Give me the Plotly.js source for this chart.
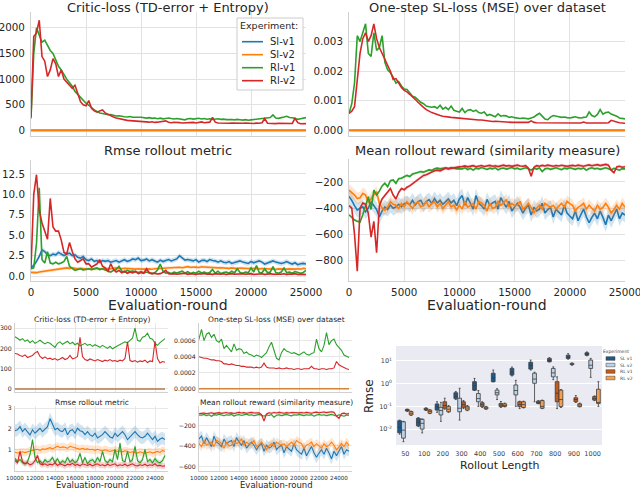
<!DOCTYPE html>
<html><head><meta charset="utf-8">
<script src="https://cdn.plot.ly/plotly-3.0.1.min.js"></script>
<style>html,body{margin:0;padding:0;background:#fff}#chart{width:640px;height:490px}</style>
</head><body><div id="chart"></div>
<script>
// ---------------- DATA ----------------
const rounds = [0,250,500,750,1000,1250,1500,1750,2000,2250,2500,2750,3000,3250,3500,3750,4000,4250,4500,4750,5000,5250,5500,5750,6000,6250,6500,6750,7000,7250,7500,7750,8000,8250,8500,8750,9000,9250,9500,9750,10000,10250,10500,10750,11000,11250,11500,11750,12000,12250,12500,12750,13000,13250,13500,13750,14000,14250,14500,14750,15000,15250,15500,15750,16000,16250,16500,16750,17000,17250,17500,17750,18000,18250,18500,18750,19000,19250,19500,19750,20000,20250,20500,20750,21000,21250,21500,21750,22000,22250,22500,22750,23000,23250,23500,23750,24000,24250,24500,24750,25000];
const flatRounds = [0, 25000];
const experiments = ['Sl-v1','Sl-v2','Rl-v1','Rl-v2'];

// Critic-loss
const criticSl1 = [0, 0];
const criticSl2 = [0, 0];
const criticRl1 = [230,1500,2000,1850,1720,1760,1650,1560,1500,1380,
1250,1180,1080,1000,930,860,760,700,660,590,
530,490,440,400,370,340,330,315,305,310,
290,280,285,270,265,260,270,255,250,255,
257,250,240,248,235,242,228,238,225,232,
240,230,222,230,225,215,205,225,232,220,
228,235,222,230,218,225,212,220,225,215,
220,210,218,212,205,215,208,200,210,198,
205,212,218,225,232,228,240,250,300,240,
235,255,260,275,250,245,225,215,228,238,
248];
const criticRl2 = [260,1830,1900,2150,1440,1350,1050,1180,1400,1300,
1050,1180,1000,950,880,820,880,720,560,500,
480,580,430,380,355,380,400,340,310,280,
260,240,225,215,200,195,190,185,180,178,
175,172,165,160,168,155,160,165,178,185,
160,150,158,148,152,145,150,142,148,155,
145,150,165,148,152,160,255,160,145,140,
148,142,138,145,140,135,142,138,145,137,
140,135,142,138,150,232,140,135,140,132,
138,135,142,130,138,135,235,150,128,135,
132];

// One-step SL-loss
const slSl1 = [0, 0];
const slSl2 = [0, 0];
const slRl1 = [0.00057,0.0009,0.0016,0.0032,0.0030,0.0033,0.0036,0.0026,0.0025,0.0033,
0.0027,0.0028,0.0032,0.0023,0.00205,0.00195,0.0018,0.0016,0.00165,0.0015,
0.0014,0.00138,0.00125,0.00115,0.00112,0.00102,0.00095,0.0009,0.00082,0.0008,
0.00078,0.0008,0.00075,0.00085,0.00072,0.00078,0.0007,0.00082,0.00068,0.00065,
0.00062,0.00074,0.0006,0.00068,0.0007,0.00064,0.00068,0.0006,0.00058,0.00062,
0.0005,0.00054,0.0005,0.00046,0.00056,0.00048,0.0005,0.00049,0.00044,0.00046,
0.00043,0.00042,0.0004,0.00042,0.00041,0.00039,0.00042,0.00045,0.00052,0.00058,
0.00048,0.00038,0.00036,0.00045,0.0005,0.00047,0.00046,0.00044,0.00045,0.00043,
0.00042,0.00044,0.00046,0.00043,0.00042,0.00044,0.00045,0.00062,0.0005,0.00046,
0.00054,0.0007,0.00055,0.0006,0.00062,0.00055,0.00052,0.00048,0.00042,0.0004,
0.00039];
const slRl2 = [0.00057,0.00065,0.0008,0.0018,0.0026,0.0031,0.0033,0.0030,0.0032,0.0036,
0.0031,0.0028,0.0026,0.00235,0.0022,0.0020,0.00172,0.00175,0.0016,0.00145,
0.00135,0.0013,0.00122,0.00115,0.00105,0.00095,0.00088,0.00078,0.0007,0.00064,
0.0006,0.00057,0.00053,0.0005,0.00048,0.00046,0.00045,0.00044,0.00043,0.00042,
0.0004,0.00039,0.00038,0.00038,0.00037,0.00036,0.00036,0.00035,0.00035,0.00034,
0.00031,0.00031,0.0003,0.00031,0.0003,0.00029,0.00029,0.00028,0.00028,0.00027,
0.00027,0.00027,0.00026,0.00027,0.00026,0.00027,0.00032,0.00027,0.00026,0.00026,
0.00026,0.00025,0.00026,0.00025,0.00025,0.00026,0.00025,0.00025,0.00024,0.00025,
0.00025,0.00024,0.00025,0.00025,0.00025,0.00028,0.00025,0.00025,0.00024,0.00025,
0.00025,0.00024,0.00025,0.00025,0.00026,0.00034,0.0003,0.00028,0.00026,0.00025,
0.00024];

// Rmse rollout metric
const rmseSl1 = [1.0,1.3,1.8,2.4,3.2,3.0,2.6,2.5,2.7,2.6,
2.9,2.7,2.5,2.7,2.8,2.5,2.6,2.3,2.2,2.4,
2.0,1.9,2.1,1.8,1.9,1.7,1.9,1.8,1.9,1.7,
1.8,1.9,1.7,1.9,2.0,1.8,1.9,2.1,2.0,2.2,
1.9,1.95,2.1,1.86,2.0,1.85,1.7,1.95,1.78,1.9,
2.02,1.86,2.0,2.1,2.49,2.17,1.95,2.02,1.9,1.86,
2.02,1.71,1.9,1.95,1.78,2.02,1.9,1.86,1.71,1.86,
1.7,1.63,1.78,1.55,1.65,1.71,1.86,1.71,1.6,1.55,
1.78,1.63,1.75,1.86,1.71,1.47,1.6,1.71,1.86,1.71,
1.6,1.55,1.63,1.78,1.6,1.47,1.63,1.39,1.5,1.55,
1.47];
const rmseSl2 = [0.45,0.4,0.42,0.5,0.55,0.6,0.65,0.7,0.8,0.85,
0.9,0.9,0.95,1.0,0.95,1.0,0.95,0.9,0.95,0.9,
0.85,0.9,0.85,0.9,0.88,0.85,0.9,0.92,0.88,0.9,
0.95,1.0,0.95,0.9,0.95,0.9,0.92,0.88,0.85,0.9,
0.85,0.82,0.85,0.88,0.84,0.9,0.92,0.95,0.98,1.0,
0.95,1.02,1.0,1.05,1.08,1.02,1.1,1.15,1.08,1.12,
1.1,1.05,1.15,1.12,1.08,1.05,1.0,1.05,1.0,1.02,
0.98,1.0,0.95,1.0,0.95,0.92,0.98,0.95,0.9,0.93,
0.95,0.9,0.92,0.88,0.93,0.9,0.85,0.88,0.85,0.82,
0.88,0.85,0.8,0.85,0.88,0.82,0.85,0.9,0.85,0.95,
0.9];
const rmseRl1 = [0.9,1.0,4.0,10.8,2.0,1.6,3.0,1.6,1.5,1.7,
1.5,1.6,1.8,2.4,1.2,0.9,0.7,0.8,0.9,0.75,
0.85,0.9,0.8,0.9,1.0,0.8,0.9,0.75,0.6,0.5,
0.7,0.8,1.2,0.6,0.5,0.7,0.55,0.6,0.5,0.45,
0.55,0.4,0.5,0.35,0.3,0.4,0.75,1.47,0.6,0.35,
0.45,0.3,0.5,0.38,0.45,0.6,0.35,0.55,0.3,0.45,
0.35,0.6,0.38,0.5,0.35,0.45,0.8,0.35,0.6,0.3,
0.45,0.5,0.35,0.6,0.4,0.9,0.45,0.35,0.5,0.4,
1.0,0.5,1.3,0.45,0.4,0.9,0.4,0.5,1.15,0.45,
0.35,0.5,1.0,0.4,0.5,0.35,0.55,0.4,0.35,0.45,
0.7];
const rmseRl2 = [1.0,10.0,12.4,8.0,6.5,5.5,4.5,9.5,6.0,5.5,
5.5,4.4,2.9,2.7,4.1,3.0,2.1,1.7,1.9,2.1,
1.5,1.5,1.1,1.3,1.5,2.0,1.2,1.0,0.6,1.5,
0.8,0.5,0.7,0.4,0.6,0.35,0.5,0.4,0.6,0.3,
0.45,0.35,0.9,0.4,0.3,0.35,0.25,0.3,0.45,0.7,
0.3,0.25,0.3,0.22,0.28,0.25,0.35,0.22,0.3,0.25,
0.2,0.28,0.25,0.32,0.22,0.27,0.2,0.3,0.25,0.22,
0.28,0.2,0.25,0.3,0.22,0.25,0.2,0.28,0.22,0.25,
0.3,0.2,0.25,0.22,0.28,0.2,0.25,0.3,0.22,0.2,
0.25,0.22,0.28,0.2,0.25,0.22,0.3,0.2,0.22,0.18,
0.2];
const rmseSpread = [0.3, 0.2, 0.12, 0.15];

// Mean rollout reward
const rewSl1 = [-310,-340,-380,-415,-400,-390,-428,-400,-351,-380,
-410,-467,-420,-390,-410,-377,-400,-390,-370,-390,
-365,-360,-375,-340,-375,-350,-340,-378,-350,-335,
-365,-326,-360,-340,-370,-350,-330,-360,-340,-380,
-330,-304,-378,-319,-360,-407,-304,-363,-380,-407,
-333,-378,-360,-348,-407,-319,-360,-393,-348,-422,
-390,-363,-393,-437,-400,-378,-452,-393,-420,-407,
-363,-437,-410,-393,-467,-407,-430,-452,-378,-437,
-460,-481,-422,-496,-450,-407,-467,-511,-470,-437,
-481,-422,-470,-526,-452,-496,-450,-407,-481,-437,
-452];
const rewSl2 = [-262,-280,-300,-326,-320,-287,-300,-351,-330,-300,
-275,-364,-400,-415,-390,-351,-370,-377,-403,-364,
-390,-351,-377,-403,-364,-351,-390,-377,-351,-390,
-364,-351,-390,-364,-403,-377,-351,-390,-377,-415,
-377,-407,-348,-393,-380,-363,-407,-348,-360,-378,
-422,-363,-400,-393,-348,-378,-360,-333,-393,-363,
-380,-378,-348,-407,-390,-363,-393,-437,-400,-378,
-407,-363,-380,-393,-378,-407,-385,-363,-393,-348,
-365,-378,-422,-393,-380,-363,-407,-378,-400,-422,
-378,-407,-395,-363,-393,-437,-410,-378,-407,-363,
-393];
const rewRl1 = [-450,-470,-490,-500,-505,-450,-380,-313,-410,-262,
-300,-270,-230,-210,-236,-190,-185,-210,-175,-172,
-160,-150,-159,-140,-134,-128,-121,-125,-115,-108,
-112,-100,-95,-100,-95,-92,-98,-90,-95,-100,
-98,-100,-92,-105,-96,-110,-95,-100,-90,-98,
-105,-95,-100,-92,-108,-98,-94,-102,-96,-90,
-100,-95,-105,-98,-92,-100,-110,-96,-102,-94,
-120,-100,-96,-104,-98,-92,-100,-106,-95,-100,
-92,-98,-104,-96,-100,-94,-110,-98,-92,-100,
-96,-104,-98,-92,-100,-108,-96,-102,-110,-98,
-100];
const rewRl2 = [-380,-400,-600,-880,-400,-360,-370,-440,-620,-500,
-740,-380,-330,-300,-280,-250,-300,-330,-280,-250,
-260,-240,-230,-215,-195,-180,-165,-150,-145,-135,
-120,-115,-110,-115,-105,-95,-100,-95,-90,-88,
-85,-82,-78,-85,-80,-76,-84,-79,-75,-82,
-78,-74,-80,-77,-83,-76,-72,-79,-75,-81,
-76,-72,-78,-80,-76,-95,-156,-88,-76,-80,
-74,-78,-72,-76,-80,-75,-78,-73,-76,-81,
-77,-74,-78,-72,-76,-80,-74,-70,-76,-72,
-68,-75,-70,-66,-72,-110,-130,-85,-80,-88,
-84];
const rewSpread = [55, 45, 10, 12];

// Box plot: Rmse by rollout length
const rolloutLengths = ['50','100','200','300','400','500','600','700','800','900','1000'];
const boxNames = ['SL v1','SL v2','RL v1','RL v2'];
const boxQ1  = [[0.0069,0.014,0.069,0.22,0.52,1.23,2.4,4.4,9.3,13,18],
                [0.004,0.010,0.042,0.058,0.16,0.32,0.32,1.04,2.0,6.9,4.7],
                [0.063,0.069,0.083,0.091,0.10,0.098,0.098,0.135,0.16,0.16,0.19],
                [0.042,0.05,0.058,0.069,0.077,0.1,0.09,0.083,0.098,0.098,0.135]];
const boxMed = [[0.012,0.02,0.095,0.28,0.8,1.8,3.2,6.5,10.5,15,20],
                [0.009,0.018,0.066,0.083,0.22,0.4,0.5,1.6,3.0,7.3,6.5],
                [0.068,0.075,0.11,0.12,0.12,0.115,0.12,0.15,0.38,0.2,0.22],
                [0.05,0.06,0.075,0.085,0.085,0.11,0.12,0.1,0.2,0.115,0.15]];
const boxQ3  = [[0.0234,0.030,0.128,0.40,1.23,2.9,4.7,8.8,13,18,23],
                [0.021,0.027,0.091,0.23,0.37,0.52,0.88,2.9,4.7,7.9,11],
                [0.074,0.083,0.16,0.16,0.145,0.135,0.16,0.17,1.23,0.24,0.27],
                [0.059,0.069,0.098,0.10,0.095,0.13,0.16,0.18,0.52,0.13,0.57]];
const boxLo  = [[0.006,0.013,0.055,0.2,0.5,1.2,2.2,4.0,9,12,17],
                [0.0028,0.0068,0.022,0.025,0.1,0.2,0.1,0.16,1.5,6.5,1.9],
                [0.06,0.066,0.075,0.08,0.09,0.09,0.08,0.13,0.08,0.15,0.18],
                [0.04,0.048,0.055,0.065,0.075,0.095,0.085,0.08,0.09,0.095,0.1]];
const boxHi  = [[0.025,0.032,0.16,0.45,1.7,4.0,5.4,11,14,21,25],
                [0.022,0.028,0.15,0.63,0.5,0.6,1.4,3.2,5.5,8.2,13],
                [0.076,0.086,0.23,0.18,0.16,0.165,0.17,0.18,2.0,0.3,0.29],
                [0.062,0.072,0.11,0.11,0.1,0.14,0.17,0.19,0.55,0.14,1.23]];

// ---------------- STYLE ----------------
const W = 640, H = 490;
const px = (a, b) => [a / W, b / W];
const py = (t, b) => [1 - b / H, 1 - t / H];
const FONT = 'DejaVu Sans';
const TXT = '#262626';
const GRID = '#e2e2e2';
const colors = ['#1f77b4', '#ff7f0e', '#2ca02c', '#d62728'];
const bandColors = ['rgba(31,119,180,0.2)', 'rgba(255,127,14,0.2)', 'rgba(44,160,44,0.2)', 'rgba(214,39,40,0.2)'];
const boxColors = ['#1a5a8c', '#bcd3e7', '#c45a1c', '#f5a04e'];

const traces = [];
function line(x, y, i, xa, ya, w) {
  traces.push({type: 'scatter', mode: 'lines', x: x, y: y, name: experiments[i],
    line: {color: colors[i], width: w}, xaxis: xa, yaxis: ya, showlegend: false, hoverinfo: 'skip'});
}
function band(x, y, hw, i, xa, ya) {
  const up = y.map(v => v + hw), lo = y.map(v => v - hw).reverse();
  traces.push({type: 'scatter', mode: 'lines', x: x.concat(x.slice().reverse()), y: up.concat(lo),
    fill: 'toself', fillcolor: bandColors[i], line: {width: 0}, xaxis: xa, yaxis: ya,
    showlegend: false, hoverinfo: 'skip'});
}

const panelSets = [
  {axes: [['x', 'y'], ['x5', 'y5']], series: [[flatRounds, criticSl1], [flatRounds, criticSl2], [rounds, criticRl1], [rounds, criticRl2]], spread: null},
  {axes: [['x2', 'y2'], ['x6', 'y6']], series: [[flatRounds, slSl1], [flatRounds, slSl2], [rounds, slRl1], [rounds, slRl2]], spread: null},
  {axes: [['x3', 'y3'], ['x7', 'y7']], series: [[rounds, rmseSl1], [rounds, rmseSl2], [rounds, rmseRl1], [rounds, rmseRl2]], spread: rmseSpread},
  {axes: [['x4', 'y4'], ['x8', 'y8']], series: [[rounds, rewSl1], [rounds, rewSl2], [rounds, rewRl1], [rounds, rewRl2]], spread: rewSpread}
];
panelSets.forEach(ps => {
  ps.axes.forEach((ax, k) => {
    ps.series.forEach((s, i) => {
      if (ps.spread) band(s[0], s[1], ps.spread[i], i, ax[0], ax[1]);
      line(s[0], s[1], i, ax[0], ax[1], k === 0 ? 1.6 : 1.1);
    });
  });
});

boxNames.forEach((nm, i) => {
  traces.push({type: 'box', name: nm, x: rolloutLengths, q1: boxQ1[i], median: boxMed[i], q3: boxQ3[i],
    lowerfence: boxLo[i], upperfence: boxHi[i], xaxis: 'x9', yaxis: 'y9', showlegend: false,
    fillcolor: boxColors[i], line: {color: '#3c3c3c', width: 0.8}, whiskerwidth: 0.5, hoverinfo: 'skip'});
});

function ax(extra, small) {
  return Object.assign({showgrid: true, gridcolor: GRID, gridwidth: small ? 0.8 : 1, zeroline: false,
    showline: true, linecolor: '#d0d0d0', linewidth: 1, ticks: '', fixedrange: true, tickangle: 0,
    ticklabeloverflow: 'allow', ticklabelstandoff: small ? 1 : 3,
    tickfont: {family: FONT, size: small ? 5.6 : 10.3, color: TXT}}, extra);
}
const topX = [0, 5000, 10000, 15000, 20000, 25000];
const botX = [10000, 12000, 14000, 16000, 18000, 20000, 22000, 24000];

const layout = {
  width: W, height: H, margin: {l: 0, r: 0, t: 0, b: 0}, paper_bgcolor: '#fff', plot_bgcolor: '#fff',
  font: {family: FONT, color: TXT}, showlegend: false,
  boxmode: 'group', boxgap: 0.18, boxgroupgap: 0.02,
  xaxis:  ax({domain: px(31, 306), range: [0, 25000], tickvals: topX, showticklabels: false, anchor: 'y'}),
  yaxis:  ax({domain: py(12, 136), range: [-110, 2310], tickvals: [0, 500, 1000, 1500, 2000], anchor: 'x'}),
  xaxis2: ax({domain: px(349, 625), range: [0, 25000], tickvals: topX, showticklabels: false, anchor: 'y2'}),
  yaxis2: ax({domain: py(12, 136), range: [-0.00019, 0.0040], tickvals: [0, 0.001, 0.002, 0.003], tickformat: '.3f', anchor: 'x2'}),
  xaxis3: ax({domain: px(31, 306), range: [0, 25000], tickvals: topX, tickformat: 'd', anchor: 'y3', ticklabelstandoff: 2}),
  yaxis3: ax({domain: py(160, 281), range: [-0.6, 14.2], tickvals: [0, 2.5, 5, 7.5, 10, 12.5], tickformat: '.1f', anchor: 'x3'}),
  xaxis4: ax({domain: px(349, 625), range: [0, 25000], tickvals: topX, tickformat: 'd', anchor: 'y4', ticklabelstandoff: 2}),
  yaxis4: ax({domain: py(159, 281), range: [-955, -25], tickvals: [-800, -600, -400, -200], anchor: 'x4'}),
  xaxis5: ax({domain: px(15, 168), range: [10000, 25300], tickvals: botX, showticklabels: false, anchor: 'y5'}, true),
  yaxis5: ax({domain: py(323, 392), range: [-15, 325], tickvals: [0, 100, 200, 300], anchor: 'x5', tickfont: {family: FONT, size: 6.2, color: TXT}}, true),
  xaxis6: ax({domain: px(199, 352), range: [10000, 25300], tickvals: botX, showticklabels: false, anchor: 'y6'}, true),
  yaxis6: ax({domain: py(323, 392), range: [-0.00004, 0.00082], tickvals: [0, 0.0002, 0.0004, 0.0006], tickformat: '.4f', anchor: 'x6', tickfont: {family: FONT, size: 6.2, color: TXT}}, true),
  xaxis7: ax({domain: px(15, 168), range: [10000, 25300], tickvals: botX, tickformat: 'd', anchor: 'y7'}, true),
  yaxis7: ax({domain: py(406, 471), range: [-0.05, 3.1], tickvals: [1, 2, 3], anchor: 'x7', tickfont: {family: FONT, size: 6.2, color: TXT}}, true),
  xaxis8: ax({domain: px(199, 352), range: [10000, 25300], tickvals: botX, tickformat: 'd', anchor: 'y8'}, true),
  yaxis8: ax({domain: py(406, 471), range: [-645, -10], tickvals: [-600, -400, -200], anchor: 'x8', tickfont: {family: FONT, size: 6.2, color: TXT}}, true),
  xaxis9: {domain: px(396, 602), type: 'category', anchor: 'y9', showgrid: false, zeroline: false, showline: false,
    ticks: '', fixedrange: true, tickangle: 0, ticklabelstandoff: 3, tickfont: {family: FONT, size: 6.5, color: '#444'}},
  yaxis9: {domain: py(346, 445), type: 'log', range: [-2.7, 1.66], anchor: 'x9', showgrid: true, gridcolor: '#ffffff',
    gridwidth: 1, zeroline: false, showline: false, ticks: '', fixedrange: true, ticklabelstandoff: 3,
    tickvals: [0.01, 0.1, 1, 10], ticktext: ['10<sup>-2</sup>', '10<sup>-1</sup>', '10<sup>0</sup>', '10<sup>1</sup>'],
    tickfont: {family: FONT, size: 6.5, color: '#444'}},
  shapes: [
    {type: 'rect', xref: 'paper', yref: 'paper', x0: 396 / W, x1: 602 / W, y0: 1 - 445 / H, y1: 1 - 346 / H,
     fillcolor: '#eaeaf2', line: {width: 0}, layer: 'below'}
  ],
  annotations: []
};

function note(text, cx, cy, size, extra) {
  layout.annotations.push(Object.assign({text: text, x: cx / W, y: 1 - cy / H, xref: 'paper', yref: 'paper',
    xanchor: 'center', yanchor: 'middle', showarrow: false, font: {family: FONT, size: size, color: TXT}}, extra || {}));
}
note('Critic-loss (TD-error + Entropy)', 168, 8, 13);
note('One-step SL-loss (MSE) over dataset', 487, 8, 13);
note('Rmse rollout metric', 168, 151, 13);
note('Mean rollout reward (similarity measure)', 487, 151, 13);
note('Evaluation-round', 168, 305, 14, {borderpad: 0});
note('Evaluation-round', 487, 305, 14, {borderpad: 0});
note('Critic-loss (TD-error + Entropy)', 92, 319.5, 7.5);
note('One-step SL-loss (MSE) over dataset', 276, 319.5, 7.5);
note('Rmse rollout metric', 92, 402, 7.5);
note('Mean rollout reward (similarity measure)', 276, 402, 7.5);
note('Evaluation-round', 92, 484.5, 8.5, {borderpad: 0});
note('Evaluation-round', 276, 484.5, 8.5, {borderpad: 0});
note('Rmse', 369, 396, 12, {textangle: -90});
note('Rollout Length', 499, 465, 11);

// legend of the line panels (drawn in the critic-loss panel)
layout.shapes.push({type: 'rect', xref: 'paper', yref: 'paper', x0: 237 / W, x1: 303 / W, y0: 1 - 90 / H, y1: 1 - 18 / H,
  fillcolor: 'rgba(255,255,255,0.85)', line: {color: '#cccccc', width: 1}});
note('Experiment:', 269, 25.5, 9.5);
experiments.forEach((nm, i) => {
  const cy = 41.7 + i * 13;
  layout.shapes.push({type: 'line', xref: 'paper', yref: 'paper', x0: 242 / W, x1: 263 / W, y0: 1 - cy / H, y1: 1 - cy / H,
    line: {color: colors[i], width: 1.6}});
  layout.annotations.push({text: nm, x: 268 / W, y: 1 - cy / H, xref: 'paper', yref: 'paper', xanchor: 'left',
    yanchor: 'middle', showarrow: false, font: {family: FONT, size: 10, color: TXT}});
});

// legend of the box panel
note('Experiment', 616, 351, 4.5, {font: {family: FONT, size: 4.5, color: '#444'}});
boxNames.forEach((nm, i) => {
  const cy = 358.5 + i * 6.5;
  layout.shapes.push({type: 'rect', xref: 'paper', yref: 'paper', x0: 606 / W, x1: 615 / W,
    y0: 1 - (cy + 1.8) / H, y1: 1 - (cy - 1.8) / H, fillcolor: boxColors[i], line: {color: '#3c3c3c', width: 0.5}});
  layout.annotations.push({text: nm, x: 618 / W, y: 1 - cy / H, xref: 'paper', yref: 'paper', xanchor: 'left',
    yanchor: 'middle', showarrow: false, font: {family: FONT, size: 4.5, color: '#444'}});
});

Plotly.newPlot('chart', traces, layout, {staticPlot: true, displayModeBar: false});
</script>
</body></html>
